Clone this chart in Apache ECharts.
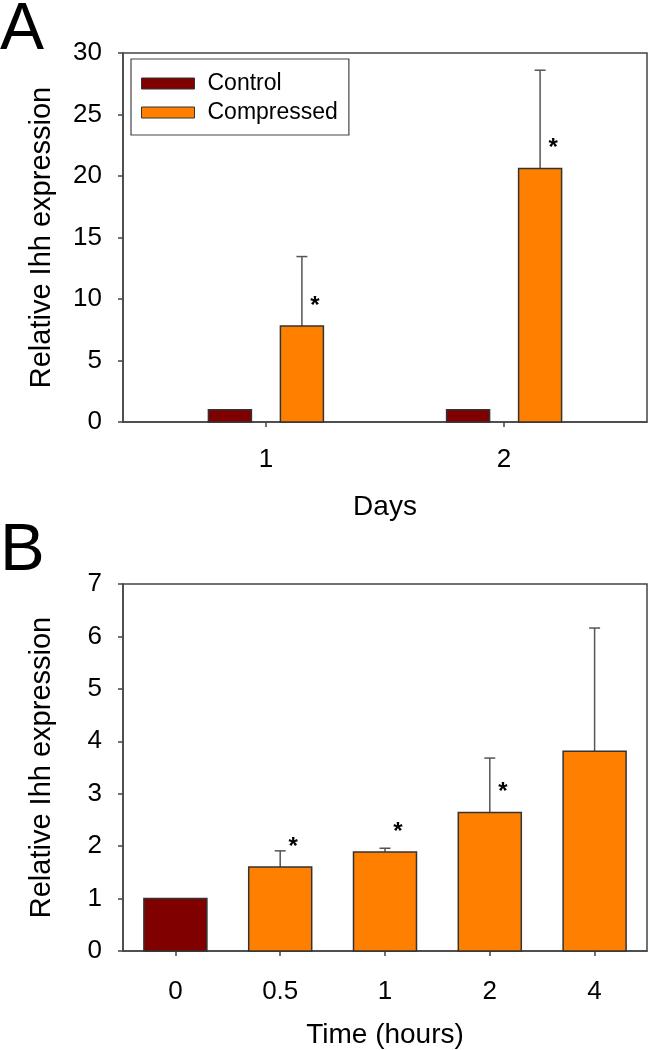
<!DOCTYPE html>
<html>
<head>
<meta charset="utf-8">
<script src="https://cdn.jsdelivr.net/npm/echarts@6/dist/echarts.min.js"></script>
<style>
html,body{margin:0;padding:0;background:#fff;}
#chart{width:648px;height:1050px;}
</style>
</head>
<body>
<div id="chart"></div>
<script>
// ---- Panel A data ----
const dayTicks = [1, 2];
const controlA = [1.0, 1.0];
const controlAErrTop = [1.0, 1.0];
const compressedA = [7.8, 20.6];
const compressedAErrTop = [13.45, 28.6];
const sigControlA = [0, 0];
const sigCompressedA = [1, 1];

// ---- Panel B data ----
const timeLabels = ['0', '0.5', '1', '2', '4'];
const timeValues = [1.0, 1.6, 1.89, 2.64, 3.81];
const timeErrTop = [1.0, 1.91, 1.96, 3.68, 6.16];
const timeIsControl = [1, 0, 0, 0, 0];
const sigB = [0, 1, 1, 1, 0];

const CONTROL = '#800000';
const COMPRESSED = '#FF8000';
const AXIS = '#444';
const FONT = 'Liberation Sans, Arial, sans-serif';

function makeRender(offset, barW, colorFn) {
  return function (params, api) {
    const x = api.value(0), y = api.value(1), e = api.value(2), sig = api.value(3);
    const base = api.coord([x, 0]);
    const top = api.coord([x, y]);
    const cx = base[0] + offset;
    const children = [];
    if (e > y) {
      const et = api.coord([x, e]);
      children.push({ type: 'line', shape: { x1: cx, y1: top[1], x2: cx, y2: et[1] },
        style: { stroke: '#555', lineWidth: 1.5 } });
      children.push({ type: 'line', shape: { x1: cx - 5.5, y1: et[1], x2: cx + 5.5, y2: et[1] },
        style: { stroke: '#555', lineWidth: 1.5 } });
    }
    children.push({ type: 'rect', shape: { x: cx - barW / 2, y: top[1], width: barW, height: base[1] - top[1] },
      style: { fill: colorFn(params.dataIndex), stroke: '#333', lineWidth: 1.5 } });
    if (sig) {
      children.push({ type: 'text', x: cx + 13, y: top[1] - 20,
        style: { text: '*', fill: '#000', font: 'bold 24px ' + FONT, align: 'center', verticalAlign: 'middle' } });
    }
    return { type: 'group', children: children };
  };
}

const chart = echarts.init(document.getElementById('chart'), null, { renderer: 'canvas' });

const yAxisCommon = {
  type: 'value',
  axisLine: { show: true, lineStyle: { color: AXIS, width: 1.5 } },
  axisTick: { show: true, inside: false, length: 5, lineStyle: { color: AXIS, width: 1.5 } },
  axisLabel: { color: '#000', fontSize: 26, fontFamily: FONT, margin: 21 },
  splitLine: { show: false },
  name: 'Relative Ihh expression',
  nameLocation: 'middle',
  nameRotate: 90,
  nameGap: 67,
  nameTextStyle: { color: '#000', fontSize: 29, fontFamily: FONT }
};

const option = {
  animation: false,
  backgroundColor: '#fff',
  textStyle: { fontFamily: FONT },
  grid: [
    { left: 123, right: 1, top: 53, bottom: 628, show: true, borderColor: AXIS, borderWidth: 1.5, containLabel: false },
    { left: 123, right: 1, top: 584, bottom: 98, show: true, borderColor: AXIS, borderWidth: 1.5, containLabel: false }
  ],
  legend: {
    left: 131, top: 59,
    orient: 'vertical',
    data: [
      { name: 'Control', itemStyle: { color: CONTROL, borderColor: '#333', borderWidth: 1 } },
      { name: 'Compressed', itemStyle: { color: COMPRESSED, borderColor: '#333', borderWidth: 1 } }
    ],
    icon: 'rect',
    itemWidth: 53, itemHeight: 11, itemGap: 6,
    padding: [13, 11, 11, 10],
    borderColor: '#444', borderWidth: 1.2,
    selectedMode: false,
    textStyle: { color: '#000', fontSize: 23, fontFamily: FONT, lineHeight: 22, padding: [0, 0, 0, 8] }
  },
  xAxis: [
    {
      gridIndex: 0, type: 'value', min: 0.4, max: 2.6,
      axisLine: { show: true, onZero: false, lineStyle: { color: AXIS, width: 1.5 } },
      axisTick: { show: true, length: 5, customValues: dayTicks, lineStyle: { color: AXIS, width: 1.5 } },
      axisLabel: { customValues: dayTicks, color: '#000', fontSize: 26, fontFamily: FONT, margin: 25 },
      splitLine: { show: false },
      name: 'Days', nameLocation: 'middle', nameGap: 71,
      nameTextStyle: { color: '#000', fontSize: 28, fontFamily: FONT }
    },
    {
      gridIndex: 1, type: 'category', data: timeLabels, boundaryGap: true,
      axisLine: { show: true, onZero: false, lineStyle: { color: AXIS, width: 1.5 } },
      axisTick: { show: true, alignWithLabel: true, length: 5, lineStyle: { color: AXIS, width: 1.5 } },
      axisLabel: { color: '#000', fontSize: 26, fontFamily: FONT, margin: 28 },
      splitLine: { show: false },
      name: 'Time (hours)', nameLocation: 'middle', nameGap: 70,
      nameTextStyle: { color: '#000', fontSize: 28, fontFamily: FONT }
    }
  ],
  yAxis: [
    Object.assign({}, yAxisCommon, { gridIndex: 0, min: 0, max: 30, interval: 5 }),
    Object.assign({}, yAxisCommon, { gridIndex: 1, min: 0, max: 7, interval: 1 })
  ],
  series: [
    {
      name: 'Control', type: 'custom', xAxisIndex: 0, yAxisIndex: 0,
      itemStyle: { color: CONTROL },
      renderItem: makeRender(-36, 43, () => CONTROL),
      data: dayTicks.map((d, i) => [d, controlA[i], controlAErrTop[i], sigControlA[i]])
    },
    {
      name: 'Compressed', type: 'custom', xAxisIndex: 0, yAxisIndex: 0,
      itemStyle: { color: COMPRESSED },
      renderItem: makeRender(36, 43, () => COMPRESSED),
      data: dayTicks.map((d, i) => [d, compressedA[i], compressedAErrTop[i], sigCompressedA[i]])
    },
    {
      name: 'Time course', type: 'custom', xAxisIndex: 1, yAxisIndex: 1,
      itemStyle: { color: COMPRESSED },
      renderItem: makeRender(0, 63, (i) => timeIsControl[i] ? CONTROL : COMPRESSED),
      data: timeLabels.map((t, i) => [i, timeValues[i], timeErrTop[i], sigB[i]])
    }
  ],
  graphic: [
    { type: 'text', left: 0, top: -2, style: { text: 'A', font: '66px ' + FONT, fill: '#000' } },
    { type: 'text', left: 0, top: 518, style: { text: 'B', font: '67px ' + FONT, fill: '#000' } }
  ]
};
chart.setOption(option);
</script>
</body>
</html>
